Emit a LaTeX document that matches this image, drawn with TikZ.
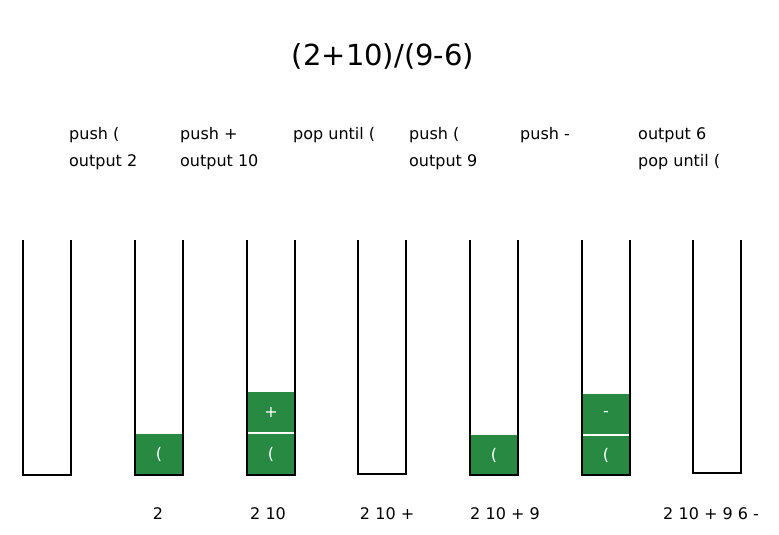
\documentclass[tikz,border=0pt]{standalone}
\usepackage{fontspec}
\setmainfont{DejaVu Sans}
\usetikzlibrary{positioning}
\definecolor{cellgreen}{RGB}{40,138,66}

\begin{document}
\begin{tikzpicture}[x=1pt, y=-1pt,
                stack/.style={draw=black, line width=1.8pt},
                cell/.style={fill=cellgreen, minimum width=47pt, minimum height=41pt, inner sep=0pt, text=white, font=\fontsize{16}{18}\selectfont},
                divider/.style={draw=white, line width=1.6pt},
                action/.style={anchor=north west, align=left, inner sep=0pt, font=\fontsize{16}{27}\selectfont},
                output/.style={anchor=base, inner sep=0pt, font=\fontsize{16}{19}\selectfont},
                title/.style={anchor=base, inner sep=0pt, font=\fontsize{29}{34}\selectfont}
            ]
            \useasboundingbox (0,0) rectangle (779,535);

            % Ausdruck
            \node[title] (expr) at (383,66) {(2+10)/(9-6)};

            % Aktionen
            \node[action] (act1) at (69,127) {push (\\output 2};
            \node[action] (act2) at (180,127) {push +\\output 10};
            \node[action] (act3) at (293,127) {pop until (};
            \node[action] (act4) at (409,127) {push (\\output 9};
            \node[action] (act5) at (520,127) {push -};
            \node[action] (act6) at (638,127) {output 6\\pop until (};

            % Inhalt der Stacks
            \node[cell] (c2a) at (159,454.5) {(};
            \node[cell] (c3a) at (271,454.5) {(};
            \node[cell] (c3b) at (271,412) {+};
            \node[cell] (c5a) at (494,455.5) {(};
            \node[cell] (c6a) at (606,455.5) {(};
            \node[cell] (c6b) at (606,414) {-};
            \draw[divider] (c3b.south west) -- (c3b.south east);
            \draw[divider] (c6b.south west) -- (c6b.south east);

            % Stacks
            \foreach \x/\b [count=\i] in {23/475, 135/475, 247/475, 358/474, 470/475, 582/475, 693/473} {
                \draw[stack] (\x,240) coordinate (s\i) -- (\x,\b) -- (\x+48,\b) -- (\x+48,240);
            }

            % Ausgabe
            \node[output] (out2) at (158,519) {2};
            \node[output] (out3) at (268,519) {2\,\,10};
            \node[output] (out4) at (387,519) {2\,\,10 +};
            \node[output] (out5) at (505,519) {2\,\,10 + 9};
            \node[output] (out7) at (711,519) {2\,\,10 + 9 6 -};

        \end{tikzpicture}
\end{document}
